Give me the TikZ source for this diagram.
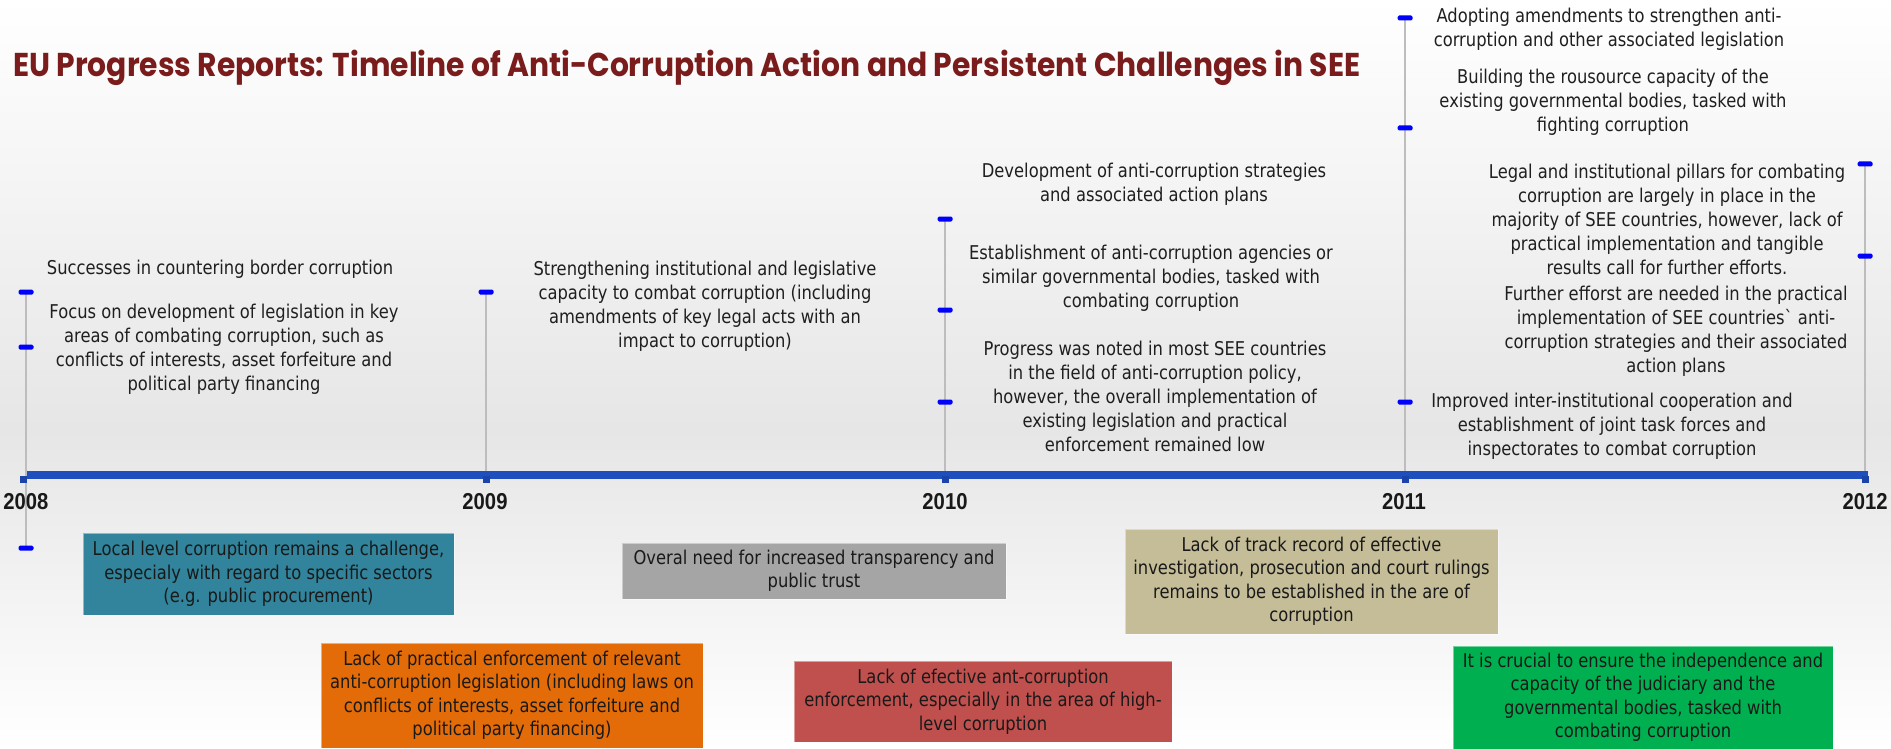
\documentclass[tikz,border=0pt]{standalone}
\usepackage{fontspec}
\usepackage{graphicx}
\newfontfamily\bodyfont[FakeStretch=0.86]{DejaVu Sans}
\newfontfamily\yearfont[FakeStretch=0.88]{Liberation Sans}
\newfontfamily\titlefont{Poppins}
\definecolor{bgg}{HTML}{E6E6E6}
\definecolor{titlec}{HTML}{7A1C1C}
\definecolor{txtc}{HTML}{1F1F1F}
\definecolor{stemc}{HTML}{BDBDBD}
\definecolor{tickc}{HTML}{0000FF}
\definecolor{axisc}{HTML}{1F4EBE}
\definecolor{sqc}{HTML}{1A44A8}
\definecolor{tealc}{HTML}{31849B}
\definecolor{grayc}{HTML}{A5A5A5}
\definecolor{orangec}{HTML}{E36C09}
\definecolor{redc}{HTML}{C0504D}
\definecolor{khakic}{HTML}{C4BD97}
\definecolor{greenc}{HTML}{00B050}
\begin{document}
\begin{tikzpicture}[x=1pt,y=-1pt,
  txt/.style={align=center, inner sep=0pt, text=txtc, font=\bodyfont\fontsize{19}{24}\selectfont},
  boxtxt/.style={align=center, inner sep=0pt, text=black!90, font=\bodyfont\fontsize{19}{23.5}\selectfont},
  cbox/.style={rectangle, draw=white, draw opacity=0.45, line width=1pt, inner sep=0pt},
  bluetick/.style={rectangle, fill=tickc, minimum width=15pt, minimum height=5pt, inner sep=0pt, rounded corners=1.5pt},
  stem/.style={draw=stemc, line width=2pt},
  axisline/.style={draw=axisc, line width=8pt},
  yearsq/.style={rectangle, fill=sqc, minimum width=7pt, minimum height=7pt, inner sep=0pt},
  yearlbl/.style={inner sep=0pt, text=black!90, font=\yearfont\bfseries\fontsize{23}{26}\selectfont}
]
\useasboundingbox (0,0) rectangle (1891,749);
\shade[top color=white, bottom color=bgg] (0,0) rectangle (1891,430);
\shade[top color=bgg, bottom color=white] (0,430) rectangle (1891,749);

% title
\node[anchor=west, inner sep=0pt] (title) at (13,68)
  {\resizebox{1347pt}{\height}{\titlefont\bfseries\fontsize{33}{36}\selectfont\color{titlec}EU Progress Reports: Timeline of Anti-Corruption Action and Persistent Challenges in SEE}};

% coordinates
\coordinate (a08) at (26,475);
\coordinate (a09) at (486,475);
\coordinate (a10) at (945,475);
\coordinate (a11) at (1405,475);
\coordinate (a12) at (1865,475);
\coordinate (t08a) at (26,292);
\coordinate (t08b) at (26,347);
\coordinate (t08c) at (26,548);
\coordinate (t09a) at (486,292);
\coordinate (t10a) at (945,219);
\coordinate (t10b) at (945,310);
\coordinate (t10c) at (945,402);
\coordinate (t11a) at (1405,18);
\coordinate (t11b) at (1405,128);
\coordinate (t11c) at (1405,402);
\coordinate (t12a) at (1865,164);
\coordinate (t12b) at (1865,256);

% stems
\draw[stem] (t08a) -- (t08c);
\draw[stem] (t09a) -- (a09);
\draw[stem] (t10a) -- (a10);
\draw[stem] (t11a) -- (a11);
\draw[stem] (t12a) -- (a12);

% axis
\draw[axisline] ([xshift=1pt]a08) -- ([xshift=3pt]a12);
\foreach \y/\xx in {08/23, 09/486, 10/945, 11/1405, 12/1865}
  \node[yearsq] (sq\y) at (\xx,479) {};

% ticks
\foreach \n in {t08a,t08b,t08c,t09a,t10a,t10b,t10c,t11a,t11b,t11c,t12a,t12b}
  \node[bluetick] (k\n) at (\n) {};

% year labels
\node[yearlbl] (y08) at (26,502) {2008};
\node[yearlbl] (y09) at (485,502) {2009};
\node[yearlbl] (y10) at (945,502) {2010};
\node[yearlbl] (y11) at (1404,502) {2011};
\node[yearlbl] (y12) at (1865,502) {2012};

% upper texts
\node[txt] (e1) at (220,269) {Successes in countering border corruption};
\node[txt] (e2) at (224,349) {Focus on development of legislation in key\\areas of combating corruption, such as\\conflicts of interests, asset forfeiture and\\political party financing};
\node[txt] (e3) at (705,306) {Strengthening institutional and legislative\\capacity to combat corruption (including\\amendments of key legal acts with an\\impact to corruption)};
\node[txt] (e4) at (1154,184) {Development of anti-corruption strategies\\and associated action plans};
\node[txt] (e5) at (1151,278) {Establishment of anti-corruption agencies or\\similar governmental bodies, tasked with\\combating corruption};
\node[txt] (e6) at (1155,396) {Progress was noted in most SEE countries\\in the field of anti-corruption policy,\\however, the overall implementation of\\existing legislation and practical\\enforcement remained low};
\node[txt] (e7) at (1609,29) {Adopting amendments to strengthen anti-\\corruption and other associated legislation};
\node[txt] (e8) at (1613,102) {Building the rousource capacity of the\\existing governmental bodies, tasked with\\fighting corruption};
\node[txt] (e9) at (1667,219) {Legal and institutional pillars for combating\\corruption are largely in place in the\\majority of SEE countries, however, lack of\\practical implementation and tangible\\results call for further efforts.};
\node[txt] (e10) at (1676,331) {Further efforst are needed in the practical\\implementation of SEE countries\symbol{96} anti-\\corruption strategies and their associated\\action plans};
\node[txt] (e11) at (1612,426) {Improved inter-institutional cooperation and\\establishment of joint task forces and\\inspectorates to combat corruption};

% challenge boxes
\node[cbox, fill=tealc, minimum width=371pt, minimum height=82pt] (c1) at (268.5,574) {};
\node[boxtxt] (c1t) at (c1) {Local level corruption remains a challenge,\\especialy with regard to specific sectors\\(e.g. public procurement)};
\node[cbox, fill=grayc, minimum width=384pt, minimum height=56pt] (c2) at (814,571) {};
\node[boxtxt] (c2t) at (c2) {Overal need for increased transparency and\\public trust};
\node[cbox, fill=orangec, minimum width=382pt, minimum height=105pt] (c3) at (512,695.5) {};
\node[boxtxt] (c3t) at (c3) {Lack of practical enforcement of relevant\\anti-corruption legislation (including laws on\\conflicts of interests, asset forfeiture and\\political party financing)};
\node[cbox, fill=redc, minimum width=378pt, minimum height=81pt] (c4) at (983,701.5) {};
\node[boxtxt] (c4t) at (c4) {Lack of efective ant-corruption\\enforcement, especially in the area of high-\\level corruption};
\node[cbox, fill=khakic, minimum width=373pt, minimum height=105pt] (c5) at (1311.5,581.5) {};
\node[boxtxt] (c5t) at (c5) {Lack of track record of effective\\investigation, prosecution and court rulings\\remains to be established in the are of\\corruption};
\node[cbox, fill=greenc, minimum width=380pt, minimum height=103pt] (c6) at (1643,697.5) {};
\node[boxtxt] (c6t) at (c6) {It is crucial to ensure the independence and\\capacity of the judiciary and the\\governmental bodies, tasked with\\combating corruption};
\end{tikzpicture}
\end{document}
